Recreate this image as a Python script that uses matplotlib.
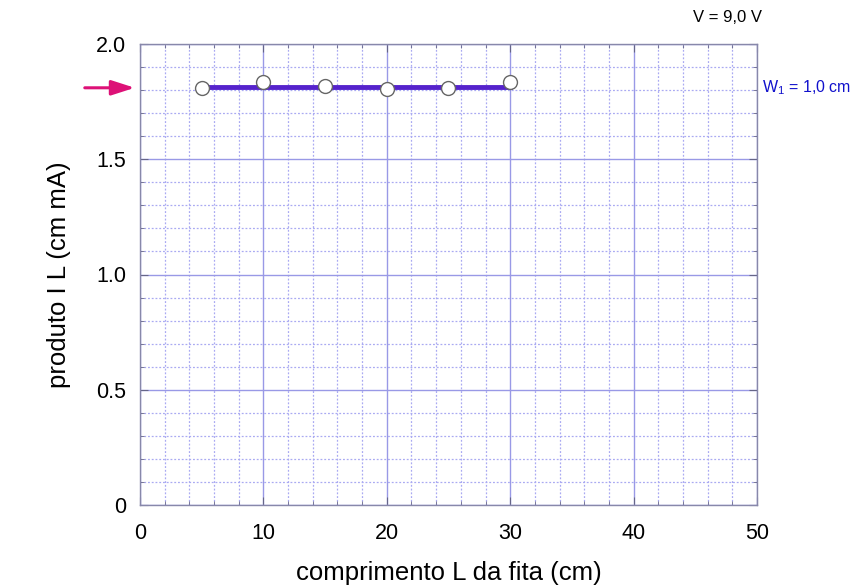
import matplotlib
matplotlib.use("Agg")

import matplotlib.pyplot as plt
import numpy as np
from matplotlib.ticker import MultipleLocator


# Data
comprimento = [5, 10, 15, 20, 25, 30]          # cm
produto = [1.81, 1.835, 1.818, 1.805, 1.809, 1.835]  # cm mA
ajuste_x = [5, 30]
ajuste_y = [1.812, 1.812]
seta_y = 1.81


plt.rcParams['font.family'] = ['Liberation Sans', 'DejaVu Sans']
plt.rcParams['mathtext.fontset'] = 'custom'
plt.rcParams['mathtext.rm'] = 'Liberation Sans'
plt.rcParams['mathtext.it'] = 'Liberation Sans'

fig = plt.figure(figsize=(8.53, 5.88), dpi=100)
ax = fig.add_axes([140 / 853, 1 - 505 / 588, 617 / 853, 461 / 588])

ax.set_xlim(0, 50)
ax.set_ylim(0, 2.0)
ax.xaxis.set_major_locator(MultipleLocator(10))
ax.xaxis.set_minor_locator(MultipleLocator(2))
ax.yaxis.set_major_locator(MultipleLocator(0.5))
ax.yaxis.set_minor_locator(MultipleLocator(0.1))

ax.grid(which="major", color="#9999e6", linewidth=1.0, linestyle="-")
ax.grid(which="minor", color="#aaaaf2", linewidth=0.9, linestyle=(0, (1.5, 1.5)))
ax.set_axisbelow(True)

for s in ax.spines.values():
    s.set_color("#8888aa")
    s.set_linewidth(1.0)

ax.tick_params(which="both", direction="in", top=True, right=True,
               color="#666688", labelsize=15.5)
ax.tick_params(axis="x", pad=13)
ax.tick_params(axis="y", pad=10)
ax.tick_params(which="major", length=6)
ax.tick_params(which="minor", length=3)

ax.set_xticks([0, 10, 20, 30, 40, 50])
ax.set_xticklabels(["0", "10", "20", "30", "40", "50"])
ax.set_yticks([0, 0.5, 1.0, 1.5, 2.0])
ax.set_yticklabels(["0", "0.5", "1.0", "1.5", "2.0"])

ax.plot(ajuste_x, ajuste_y, color="#5522cc", linewidth=3.5, zorder=3)
ax.plot(comprimento, produto, linestyle="none", marker="o", markersize=10,
        markerfacecolor="white", markeredgecolor="#666666",
        markeredgewidth=1.0, zorder=4, clip_on=False)

ax.set_xlabel("comprimento L da fita (cm)", fontsize=18.5, labelpad=12)
ax.set_ylabel("produto I L (cm mA)", fontsize=18.5, labelpad=18)

# arrow marking the level
ax.annotate("", xy=(-0.2, seta_y), xytext=(-4.7, seta_y),
            arrowprops=dict(arrowstyle="-|>,head_length=1.4,head_width=0.45",
                            color="#dd1177", linewidth=2.2),
            annotation_clip=False)

ax.text(50.4, seta_y, r"W$_{1}$ = 1,0 cm", color="#1111cc", fontsize=11.5,
        va="center", ha="left")
fig.text(728 / 853, 1 - 18 / 588, "V = 9,0 V", fontsize=12, ha="center",
         va="center")

plt.savefig("out.png", dpi=100)
